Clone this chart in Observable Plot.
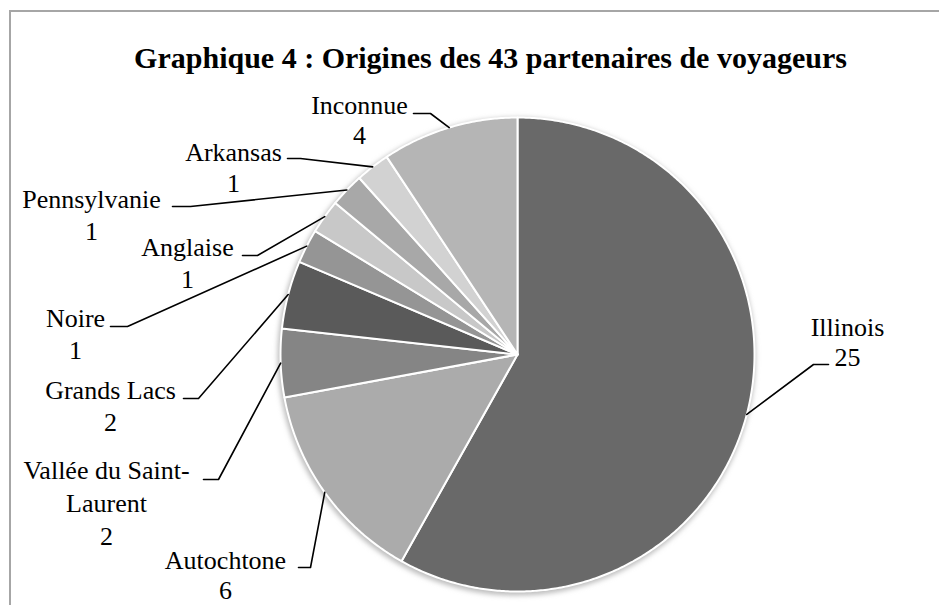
<!DOCTYPE html>
<html>
<head>
<meta charset="utf-8">
<script src="https://cdn.jsdelivr.net/npm/d3@7"></script>
<script src="https://cdn.jsdelivr.net/npm/@observablehq/plot@0.6"></script>
<style>
  html, body { margin: 0; padding: 0; background: #fff; overflow: hidden; }
  #wrap { position: relative; width: 939px; height: 605px; }
  #frame { position: absolute; left: 9px; top: 10px; width: 1000px; height: 700px;
           border: 2px solid #a6a6a6; box-sizing: border-box; }
  #chart { position: absolute; left: 0; top: 0; }
  #chart svg, #chart svg text { font-family: "Liberation Serif", "Times New Roman", serif !important; }
</style>
</head>
<body>
<div id="wrap"><div id="frame"></div><div id="chart"></div></div>
<script>
// ---- data ----
const categories = ["Illinois", "Autochtone", "Vallée du Saint-Laurent", "Grands Lacs", "Noire", "Anglaise", "Pennsylvanie", "Arkansas", "Inconnue"];
const values = [25, 6, 2, 2, 1, 1, 1, 1, 4];
const labelLines = [["Illinois"], ["Autochtone"], ["Vallée du Saint-", "Laurent"], ["Grands Lacs"], ["Noire"], ["Anglaise"], ["Pennsylvanie"], ["Arkansas"], ["Inconnue"]];
const colors = ["#696969", "#ababab", "#858585", "#5a5a5a", "#959595", "#c8c8c8", "#a8a8a8", "#d2d2d2", "#b5b5b5"];
const title = "Graphique 4 : Origines des 43 partenaires de voyageurs";

// ---- layout (positions, not data) ----
const W = 939, H = 605;
const cx = 517, cy = 354, R = 237;
// label center x, first-line baseline, line height, leader start x, leader start y, elbow x
const labelLayout = [
  {x: 847, y: 335, lh: 30, lx: 828, ly: 364, ex: 813},
  {x: 225, y: 568, lh: 30, lx: 298, ly: 567, ex: 310},
  {x: 106, y: 478, lh: 33, lx: 203, ly: 479, ex: 218},
  {x: 110, y: 398, lh: 32, lx: 183, ly: 398, ex: 198},
  {x: 75,  y: 326, lh: 32, lx: 110, ly: 326, ex: 127},
  {x: 187, y: 255, lh: 32, lx: 242, ly: 255, ex: 257},
  {x: 91,  y: 207, lh: 32, lx: 172, ly: 206, ex: 190},
  {x: 233, y: 160, lh: 31, lx: 287, ly: 158, ex: 300},
  {x: 359, y: 113, lh: 30, lx: 413, ly: 113, ex: 430}
];

const table = categories.map((c, i) => ({name: c, value: values[i], color: colors[i], lines: labelLines[i], pos: labelLayout[i]}));
const arcs = d3.pie().sort(null).value(d => d.value).startAngle(0).endAngle(2 * Math.PI)(table);

const px = a => cx + R * Math.sin(a);
const py = a => cy - R * Math.cos(a);

// slice polygons
const sliceMarks = arcs.map(a => {
  const pts = [{x: cx, y: cy}];
  const n = Math.max(2, Math.ceil((a.endAngle - a.startAngle) / (Math.PI / 360)));
  for (let k = 0; k <= n; k++) {
    const t = a.startAngle + (a.endAngle - a.startAngle) * k / n;
    pts.push({x: px(t), y: py(t)});
  }
  pts.push({x: cx, y: cy});
  return Plot.line(pts, {x: "x", y: "y", fill: a.data.color, stroke: "white", strokeWidth: 2, strokeLinejoin: "round", curve: "linear"});
});

// leader lines
const leaders = [];
arcs.forEach(a => {
  const p = a.data.pos, mid = (a.startAngle + a.endAngle) / 2;
  leaders.push({name: a.data.name, x: p.lx, y: p.ly});
  leaders.push({name: a.data.name, x: p.ex, y: p.ly});
  leaders.push({name: a.data.name, x: px(mid), y: py(mid)});
});

// text lines
const texts = [];
arcs.forEach(a => {
  const p = a.data.pos;
  const ls = [...a.data.lines, String(a.data.value)];
  ls.forEach((t, k) => texts.push({text: t, x: p.x, y: p.y + k * p.lh}));
});

const serif = "'Liberation Serif', 'Times New Roman', serif";
const chart = Plot.plot({
  width: W, height: H, margin: 0,
  x: {domain: [0, W], range: [0, W], axis: null},
  y: {domain: [0, H], range: [0, H], axis: null},
  style: {background: "transparent", overflow: "visible", fontFamily: serif},
  marks: [
    Plot.dot([0], {x: () => cx - 1, y: () => cy + 2, r: R + 2, fill: "#bdbdbd"}),
    ...sliceMarks,
    Plot.line(leaders, {x: "x", y: "y", z: "name", stroke: "black", strokeWidth: 1.6, fill: "none"}),
    Plot.text(texts, {x: "x", y: "y", text: "text", textAnchor: "middle", lineAnchor: "bottom",
      fontFamily: serif, fontSize: 26, fill: "black"}),
    Plot.text([title], {x: () => 490, y: () => 67, text: d => d, textAnchor: "middle", lineAnchor: "bottom",
      fontFamily: serif, fontSize: 30, fontWeight: "bold", fill: "black"})
  ]
});

// soft shadow on the backdrop dot
const svg = d3.select(chart);
const defs = svg.insert("defs", ":first-child");
defs.append("filter").attr("id", "soft").attr("x", "-10%").attr("y", "-10%").attr("width", "120%").attr("height", "120%")
  .append("feGaussianBlur").attr("stdDeviation", 2.5);
svg.select('g[aria-label="dot"]').attr("filter", "url(#soft)");

document.getElementById("chart").appendChild(chart);
</script>
</body>
</html>
